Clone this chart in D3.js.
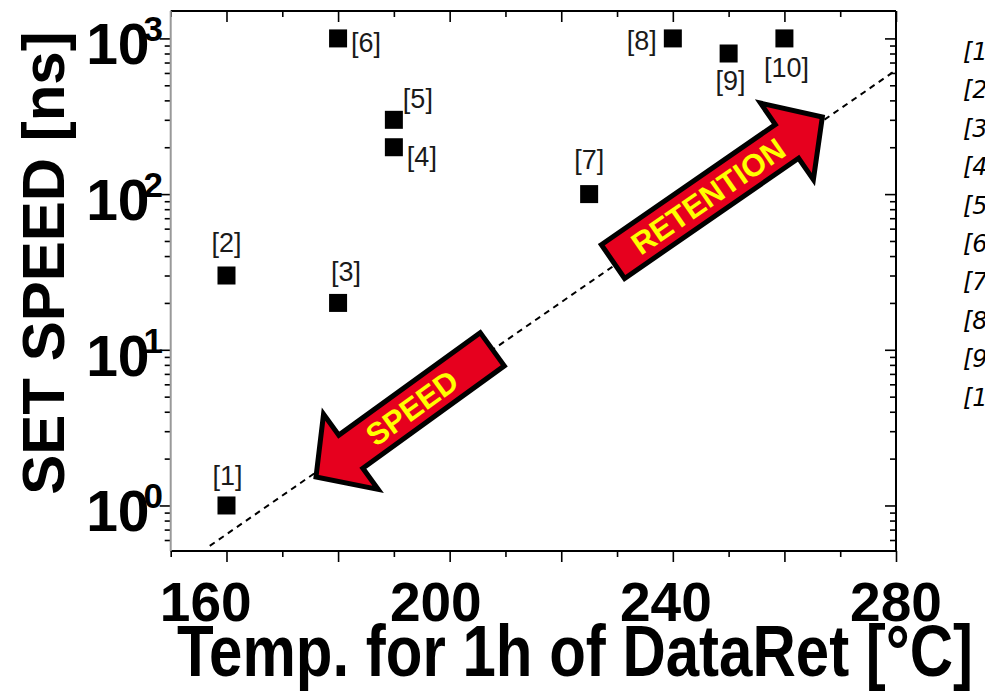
<!DOCTYPE html>
<html><head><meta charset="utf-8">
<script src="https://cdn.jsdelivr.net/npm/d3@7"></script>
<style>body{margin:0;background:#fff}svg{display:block}</style>
</head><body>
<svg id="c" width="985" height="696"></svg>
<script>
// ---- data ----
const refs = ["[1]","[2]","[3]","[4]","[5]","[6]","[7]","[8]","[9]","[10]"];
const temps = [160,160,180,190,190,180,225,240,250,260];
const speeds = [1,30,20,200,300,1000,100,1000,800,1000];
const xTickLabels = [160,200,240,280];
const yTickValues = [1,10,100,1000];
const yTickExponents = ["0","1","2","3"];
const legendLabels = ["[1]","[2]","[3]","[4]","[5]","[6]","[7]","[8]","[9]","[10]"];
const trendTemps = [157,280];
const trendSpeeds = [0.55,626];
const arrowNames = ["SPEED","RETENTION"];
const arrowTailTemps = [208.0,228.9];
const arrowTailSpeeds = [10.3,36.1];
const arrowTipTemps = [175.55,267.3];
const arrowTipSpeeds = [1.48,322];

// ---- layout (kept apart from data) ----
const labelDx = [1,0,8,13,9,13,0,-16,2,2];
const labelDy = [-20,-24,-22,19,-12,14,-25,12,36,39];
const labelAnchor = ["middle","middle","middle","start","start","start","middle","end","middle","middle"];
const arrowTextAt = [102,118];

const W=985,H=696, L=170.7, R=896, T=11, B=551;
const svg = d3.select("#c");
const FONT = "Arial, 'Liberation Sans', sans-serif";

const x = d3.scaleLinear().domain([150,280]).range([L,R]);
const y = d3.scaleLog().domain([0.51,1500]).range([B,T]);

const xMinor = d3.range(150,281,10).filter(v=>v%20!==0);
const xMajor = d3.range(160,281,20);
const yMajor = yTickValues;
const yMinor = [];
[0.1,1,10,100].forEach(d=>{for(let k=2;k<=9;k++){const v=d*k; if(v>=0.51&&v<=1500) yMinor.push(v);}});

function styleAxis(g){ g.selectAll(".tick line").attr("stroke","#000").attr("stroke-width",1.6); g.selectAll("text").remove(); }

// bottom
svg.append("g").attr("transform",`translate(0,${B})`).call(d3.axisBottom(x).tickValues(xMinor).tickSize(6).tickSizeOuter(0)).call(styleAxis).select(".domain").remove();
svg.append("g").attr("transform",`translate(0,${B})`).call(d3.axisBottom(x).tickValues(xMajor).tickSize(11).tickSizeOuter(0)).call(styleAxis).select(".domain").remove();
// top (inward)
svg.append("g").attr("transform",`translate(0,${T})`).call(d3.axisTop(x).tickValues(xMinor).tickSize(-6).tickSizeOuter(0)).call(styleAxis).select(".domain").remove();
svg.append("g").attr("transform",`translate(0,${T})`).call(d3.axisTop(x).tickValues(xMajor).tickSize(-11).tickSizeOuter(0)).call(styleAxis).select(".domain").remove();
// left (outward)
svg.append("g").attr("transform",`translate(${L},0)`).call(d3.axisLeft(y).tickValues(yMinor).tickSize(6).tickSizeOuter(0)).call(styleAxis).select(".domain").remove();
svg.append("g").attr("transform",`translate(${L},0)`).call(d3.axisLeft(y).tickValues(yMajor).tickSize(11).tickSizeOuter(0)).call(styleAxis).select(".domain").remove();
// right (inward)
svg.append("g").attr("transform",`translate(${R},0)`).call(d3.axisRight(y).tickValues(yMinor).tickSize(-6).tickSizeOuter(0)).call(styleAxis).select(".domain").remove();
svg.append("g").attr("transform",`translate(${R},0)`).call(d3.axisRight(y).tickValues(yMajor).tickSize(-11).tickSizeOuter(0)).call(styleAxis).select(".domain").remove();

// frame
svg.append("line").attr("x1",L).attr("x2",R).attr("y1",T).attr("y2",T).attr("stroke","#000").attr("stroke-width",2);
svg.append("line").attr("x1",L).attr("x2",R).attr("y1",B).attr("y2",B).attr("stroke","#000").attr("stroke-width",2);
svg.append("line").attr("x1",R).attr("x2",R).attr("y1",T).attr("y2",B).attr("stroke","#000").attr("stroke-width",2);
svg.append("line").attr("x1",L).attr("x2",L).attr("y1",T).attr("y2",B).attr("stroke","#999").attr("stroke-width",2);

// x tick labels
svg.append("g").selectAll("text").data(xTickLabels).join("text")
  .attr("x",d=>x(d)+(d-280)*0.173).attr("y",621)
  .attr("text-anchor","middle").attr("font-family",FONT).attr("font-weight","bold").attr("font-size",55)
  .text(d=>d);

// y tick labels
const yl = svg.append("g").selectAll("text").data(yMajor).join("text")
  .attr("x",163).attr("y",d=>y(d)+26)
  .attr("text-anchor","end").attr("font-family",FONT).attr("font-weight","bold").attr("font-size",57);
yl.append("tspan").text("10");
yl.append("tspan").attr("dx",-6).attr("dy",-23).attr("font-size",35).text((d,i)=>yTickExponents[i]);

// axis titles
svg.append("text").attr("transform","translate(64,263) rotate(-90)").attr("text-anchor","middle")
  .attr("font-family",FONT).attr("font-weight","bold").attr("font-size",60).text("SET SPEED [ns]");
svg.append("text").attr("transform","translate(575,676) scale(1,1.2)").attr("text-anchor","middle")
  .attr("font-family",FONT).attr("font-weight","bold").attr("font-size",60).text("Temp. for 1h of DataRet [°C]");

// clip
svg.append("clipPath").attr("id","plot").append("rect").attr("x",L).attr("y",T).attr("width",R-L).attr("height",B-T);

// trend line
svg.append("path").attr("clip-path","url(#plot)")
  .datum(trendTemps.map((t,i)=>[t,trendSpeeds[i]]))
  .attr("d",d3.line().x(d=>x(d[0])).y(d=>y(d[1])))
  .attr("fill","none").attr("stroke","#000").attr("stroke-width",2).attr("stroke-dasharray","6,5");

// arrows
arrowNames.forEach((name,i)=>{
  const tail=[x(arrowTailTemps[i]),y(arrowTailSpeeds[i])], tip=[x(arrowTipTemps[i]),y(arrowTipSpeeds[i])];
  const dx=tip[0]-tail[0], dy=tip[1]-tail[1], len=Math.hypot(dx,dy);
  const ux=dx/len, uy=dy/len, nx=-uy, ny=ux;
  const sw=20.5, hw=46.5, hl=43, a0=2.5, a1=len-3.4;
  const P=(a,b)=>[tail[0]+ux*a+nx*b, tail[1]+uy*a+ny*b];
  const pts=[P(a0,-sw),P(a1-hl,-sw),P(a1-hl,-hw),P(a1,0),P(a1-hl,hw),P(a1-hl,sw),P(a0,sw)];
  svg.append("path").attr("d","M"+pts.map(p=>p.join(",")).join("L")+"Z")
    .attr("fill","#e6001e").attr("stroke","#000").attr("stroke-width",5).attr("stroke-linejoin","miter").attr("stroke-miterlimit",10);
  const c=P(arrowTextAt[i],0);
  let ang=Math.atan2(dy,dx)*180/Math.PI; if(dx<0) ang+=180;
  svg.append("text").attr("transform",`translate(${c[0]},${c[1]}) rotate(${ang})`)
    .attr("text-anchor","middle").attr("dy","0.36em")
    .attr("font-family",FONT).attr("font-weight","bold").attr("font-size",31).attr("fill","#ffff00").text(name);
});

// points
svg.append("g").selectAll("rect").data(temps).join("rect")
  .attr("x",(d,i)=>x(d)-9).attr("y",(d,i)=>y(speeds[i])-9).attr("width",18).attr("height",18).attr("fill","#000");
svg.append("g").selectAll("text").data(refs).join("text")
  .attr("x",(d,i)=>x(temps[i])+labelDx[i]).attr("y",(d,i)=>y(speeds[i])+labelDy[i])
  .attr("text-anchor",(d,i)=>labelAnchor[i])
  .attr("font-family",FONT).attr("font-size",27).attr("fill","#1a1a1a").text(d=>d);

// legend (cut off at the right edge, as in the reference)
svg.append("g").selectAll("text").data(legendLabels).join("text")
  .attr("x",963).attr("y",(d,i)=>60+i*38.4)
  .attr("font-family","'DejaVu Sans', sans-serif").attr("font-style","italic").attr("font-size",24).attr("fill","#000")
  .text(d=>d);
</script>
</body></html>
